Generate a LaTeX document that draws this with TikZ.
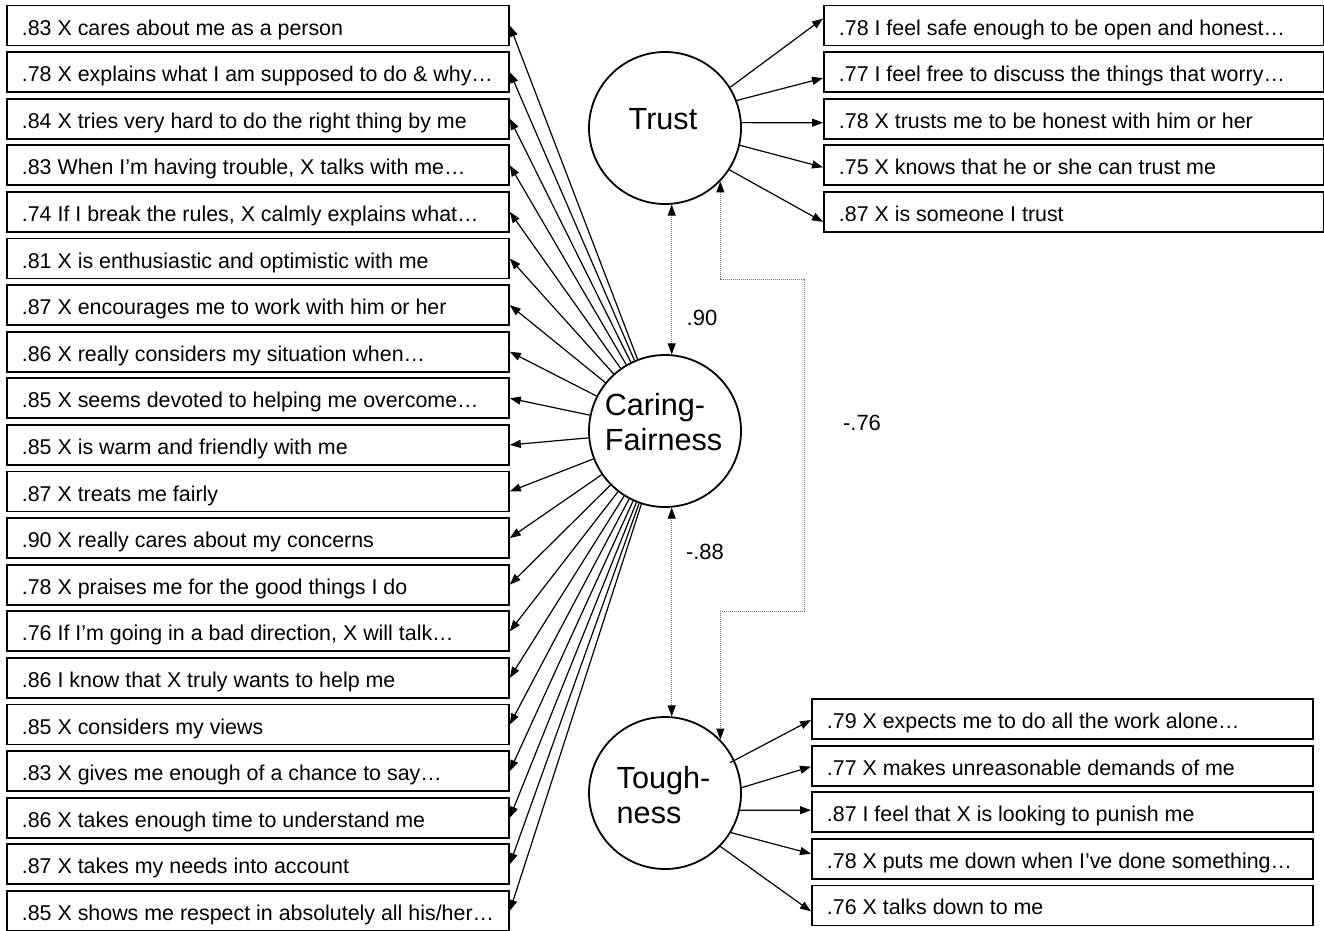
\documentclass[tikz,border=0pt]{standalone}
\usepackage{fontspec}
\setmainfont{Liberation Sans}
\usetikzlibrary{arrows.meta,calc}
\begin{document}
\begin{tikzpicture}[x=1pt,y=-1pt,
  itembox/.style={draw, line width=1.8pt, anchor=west, minimum height=40pt,
    minimum width=#1, inner xsep=15pt, inner ysep=0pt,
    text height=19pt, text depth=0pt,
    font=\fontsize{21.4}{25}\selectfont},
  lat/.style={circle, draw, line width=1.8pt, minimum size=152pt, inner sep=0pt},
  lattext/.style={align=left, inner sep=0pt, font=\fontsize{30.6}{35}\selectfont},
  corlabel/.style={inner sep=0pt, font=\fontsize{22}{25}\selectfont},
  arr/.style={-{Triangle[length=11pt,width=8pt]}, line width=1.2pt},
  corr/.style={{Triangle[length=11pt,width=8pt,color=black]}-{Triangle[length=11pt,width=8pt,color=black]},
    draw=black!55, dash pattern=on 1pt off 1pt, line width=1pt}
]
\useasboundingbox (0,0) rectangle (1324,930);

% latent variables
\node[lat] (trust) at (665,128) {};
\node[lat] (cf) at (665,431) {};
\node[lat] (tough) at (665,793) {};
\node[lattext] (trusttxt) at (663,119) {Trust};
\node[lattext] (cftxt) at (663.5,422) {Caring-\\Fairness};
\node[lattext] (toughtxt) at (663.5,795.5) {Tough-\\ness};

% left items
\foreach \t [count=\i] in {
  {.83 X cares about me as a person},
  {.78 X explains what I am supposed to do \& why…},
  {.84 X tries very hard to do the right thing by me},
  {.83 When I’m having trouble, X talks with me…},
  {.74 If I break the rules, X calmly explains what…},
  {.81 X is enthusiastic and optimistic with me},
  {.87 X encourages me to work with him or her},
  {.86 X really considers my situation when…},
  {.85 X seems devoted to helping me overcome…},
  {.85 X is warm and friendly with me},
  {.87 X treats me fairly},
  {.90 X really cares about my concerns},
  {.78 X praises me for the good things I do},
  {.76 If I’m going in a bad direction, X will talk…},
  {.86 I know that X truly wants to help me},
  {.85 X considers my views},
  {.83 X gives me enough of a chance to say…},
  {.86 X takes enough time to understand me},
  {.87 X takes my needs into account},
  {.85 X shows me respect in absolutely all his/her…}}
{
  \node[itembox=502pt] (l\i) at (6,{25.5+46.6*(\i-1)}) {\makebox[472pt][l]{\t}};
}
\foreach \i in {1,...,20}{
  \draw[arr] (cf) -- (l\i.east);
}

% trust items
\foreach \t [count=\i] in {
  {.78 I feel safe enough to be open and honest…},
  {.77 I feel free to discuss the things that worry…},
  {.78 X trusts me to be honest with him or her},
  {.75 X knows that he or she can trust me},
  {.87 X is someone I trust}}
{
  \node[itembox=500pt] (t\i) at (823,{25.5+46.6*(\i-1)}) {\makebox[470pt][l]{\t}};
}
\draw[arr] (trust.32) -- ($(t1.west)+(0,-7)$);
\draw[arr] (trust.21) -- ($(t2.west)+(0,6)$);
\draw[arr] (trust.4) -- ($(t3.west)+(0,4)$);
\draw[arr] (trust.-13) -- ($(t4.west)+(0,2)$);
\draw[arr] (trust.-33) -- ($(t5.west)+(0,10)$);

% toughness items
\foreach \t [count=\i] in {
  {.79 X expects me to do all the work alone…},
  {.77 X makes unreasonable demands of me},
  {.87 I feel that X is looking to punish me},
  {.78 X puts me down when I’ve done something…},
  {.76 X talks down to me}}
{
  \node[itembox=501pt] (u\i) at (811,{719+46.6*(\i-1)}) {\makebox[471pt][l]{\t}};
}
\draw[arr] ($(tough.center)!0.93!(tough.25)$) -- ($(u1.west)+(0,1)$);
\draw[arr] (tough.4.5) -- ($(u2.west)+(0,1)$);
\draw[arr] (tough.-13) -- ($(u3.west)+(0,-2)$);
\draw[arr] (tough.-31) -- ($(u4.west)+(0,-5)$);
\draw[arr] (tough.-44) -- ($(u5.west)+(0,6)$);

% correlations
\draw[corr] (trust.-85.5) -- (cf.85.5);
\draw[corr] (cf.-85.5) -- (tough.85.5);
\coordinate (k1) at (804,279);
\coordinate (k2) at (804,611);
\draw[corr] (trust.-44.7) |- (k1) -- (k2) -| (tough.44.7);

\node[corlabel] (r1) at (702,318) {.90};
\node[corlabel] (r2) at (705,552) {-.88};
\node[corlabel] (r3) at (862,423) {-.76};
\end{tikzpicture}
\end{document}
